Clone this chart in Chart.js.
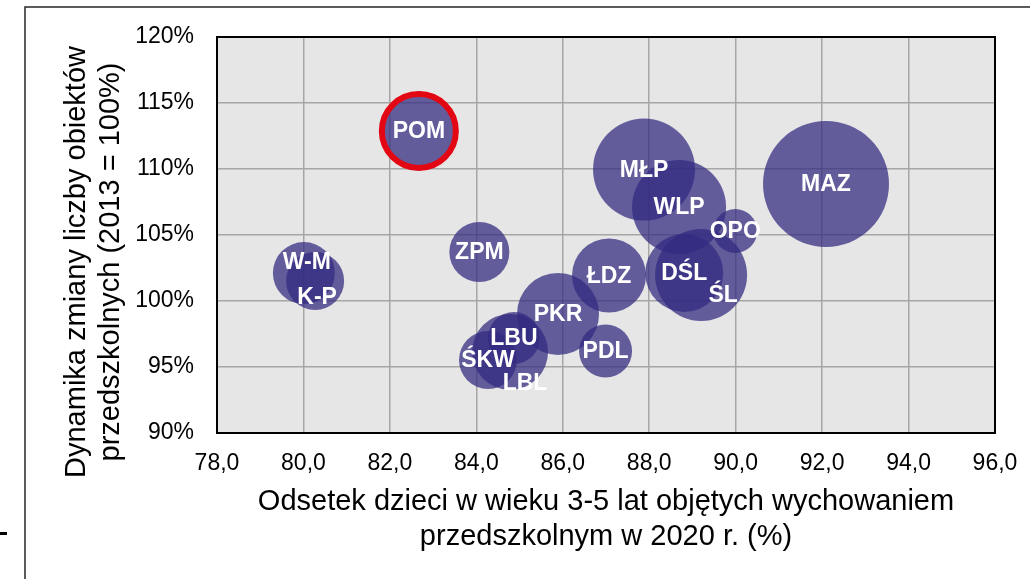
<!DOCTYPE html>
<html>
<head>
<meta charset="utf-8">
<script src="https://cdn.jsdelivr.net/npm/chart.js@4.4.1/dist/chart.umd.min.js"></script>
<style>
  html, body { margin: 0; padding: 0; background: #ffffff; }
  #wrap { width: 1030px; height: 579px; position: relative; }
</style>
</head>
<body>
<div id="wrap"><canvas id="c"></canvas></div>
<script>
// ---- data ----
const regions  = ['MAZ', 'MŁP', 'WLP', 'OPO', 'DŚL', 'ŚL', 'ŁDZ', 'PDL', 'PKR', 'POM', 'ZPM', 'W-M', 'K-P', 'LBU', 'ŚKW', 'LBL'];
const coverage = [92.09, 87.88, 88.69, 89.99, 88.81, 89.20, 87.07, 86.99, 85.89, 82.67, 84.07, 80.01, 80.27, 84.87, 84.27, 84.78];
const dynamics = [108.86, 109.96, 107.12, 105.30, 102.12, 101.97, 101.93, 96.21, 99.02, 112.88, 103.71, 102.12, 101.52, 97.20, 95.53, 96.14];
const sizes    = [100, 65.5, 55.7, 12.2, 38.3, 53.3, 34.5, 17.7, 42.4, 34.5, 22.7, 24.2, 21.2, 17.0, 21.2, 36.4];
const highlighted = ['POM'];
const xTickLabels = ['78,0', '80,0', '82,0', '84,0', '86,0', '88,0', '90,0', '92,0', '94,0', '96,0'];
const yTickLabels = ['90%', '95%', '100%', '105%', '110%', '115%', '120%'];
const xTitle = ['Odsetek dzieci w wieku 3-5 lat objętych wychowaniem', 'przedszkolnym w 2020 r. (%)'];
const yTitle = ['Dynamika zmiany liczby obiektów', 'przedszkolnych (2013 = 100%)'];

// ---- styling ----
const FONT = "'Liberation Sans', Arial, sans-serif";
const BUBBLE = 'rgba(49,41,127,0.73)';
const RMAX = 6.3;
const labelNudge = { 'W-M': [3, -11], 'K-P': [2, 16], 'LBL': [15, 31], 'ŚL': [22, 20] };

const points = regions.map((n, i) => ({ x: coverage[i], y: dynamics[i], r: RMAX * Math.sqrt(sizes[i]) }));

const decor = {
  id: 'decor',
  beforeDraw(chart) {
    const { ctx, chartArea: a } = chart;
    ctx.save();
    ctx.fillStyle = '#e6e6e6';
    ctx.fillRect(a.left, a.top, a.right - a.left, a.bottom - a.top);
    ctx.strokeStyle = '#262626';
    ctx.lineWidth = 1.5;
    ctx.beginPath();
    ctx.moveTo(25, 579); ctx.lineTo(25, 7); ctx.lineTo(1030, 7);
    ctx.stroke();
    ctx.fillStyle = '#000';
    ctx.fillRect(0, 532, 7, 3);
    ctx.restore();
  },
  afterDraw(chart) {
    const { ctx, chartArea: a } = chart;
    ctx.save();
    ctx.strokeStyle = '#000';
    ctx.lineWidth = 2;
    ctx.strokeRect(a.left, a.top, a.right - a.left, a.bottom - a.top);
    ctx.fillStyle = '#000';
    ctx.font = '29px ' + FONT;
    ctx.textAlign = 'center';
    ctx.textBaseline = 'middle';
    const cx = (a.left + a.right) / 2;
    xTitle.forEach((t, i) => ctx.fillText(t, cx, 502 + i * 34.5));
    ctx.translate(0, 262);
    ctx.rotate(-Math.PI / 2);
    yTitle.forEach((t, i) => ctx.fillText(t, 0, 77 + i * 34));
    ctx.restore();
  }
};

const bubbleLabels = {
  id: 'bubbleLabels',
  afterDatasetsDraw(chart) {
    const { ctx } = chart;
    const meta = chart.getDatasetMeta(0);
    ctx.save();
    ctx.fillStyle = '#ffffff';
    ctx.font = 'bold 23px ' + FONT;
    ctx.textAlign = 'center';
    ctx.textBaseline = 'middle';
    meta.data.forEach((el, i) => {
      const n = regions[i];
      const d = labelNudge[n] || [0, 0];
      ctx.fillText(n, el.x + d[0], el.y + d[1] + 1);
    });
    ctx.restore();
  }
};

new Chart(document.getElementById('c'), {
  type: 'bubble',
  data: {
    datasets: [{
      data: points,
      backgroundColor: BUBBLE,
      borderColor: ctx => highlighted.includes(regions[ctx.dataIndex]) ? '#e30613' : 'rgba(0,0,0,0)',
      borderWidth: ctx => highlighted.includes(regions[ctx.dataIndex]) ? 6 : 0,
      hoverBorderWidth: 0
    }]
  },
  options: {
    responsive: true,
    maintainAspectRatio: false,
    animation: false,
    events: [],
    layout: { autoPadding: false, padding: { left: 0, right: 35, top: 37, bottom: 0 } },
    plugins: { legend: { display: false }, tooltip: { enabled: false } },
    scales: {
      x: {
        type: 'linear', min: 78, max: 96,
        afterFit: s => { s.height = 146; s.paddingRight = 0; s.paddingLeft = 0; },
        afterBuildTicks: s => { s.ticks = xTickLabels.map((_, i) => ({ value: 78 + 2 * i })); },
        ticks: {
          callback: (v, i) => xTickLabels[i],
          color: '#000', padding: 17, maxRotation: 0, autoSkip: false,
          font: { family: FONT, size: 23 }
        },
        grid: { color: '#a6a6a6', lineWidth: 1.5, drawTicks: false },
        border: { display: false }
      },
      y: {
        type: 'linear', min: 90, max: 120,
        afterFit: s => { s.width = 217; s.paddingTop = 0; s.paddingBottom = 0; },
        afterBuildTicks: s => { s.ticks = yTickLabels.map((_, i) => ({ value: 90 + 5 * i })); },
        ticks: {
          callback: (v, i) => yTickLabels[i],
          color: '#000', padding: 23, autoSkip: false,
          font: { family: FONT, size: 23 }
        },
        grid: { color: '#a6a6a6', lineWidth: 1.5, drawTicks: false },
        border: { display: false }
      }
    }
  },
  plugins: [decor, bubbleLabels]
});
</script>
</body>
</html>
